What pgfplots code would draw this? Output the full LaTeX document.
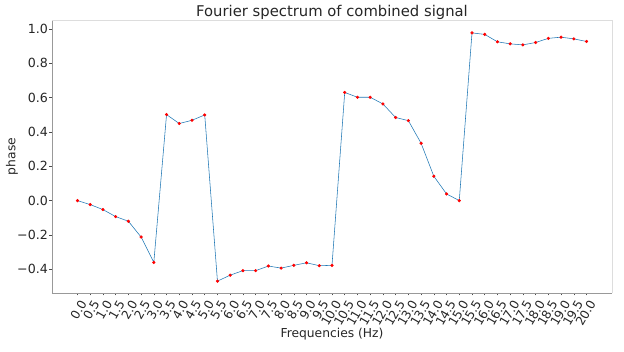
\documentclass[border=0pt]{standalone}
\usepackage{pgfplots}
\pgfplotsset{compat=1.18}
\usepackage{fontspec}
\setmainfont{DejaVu Sans}
\definecolor{mplblue}{HTML}{1F77B4}
\definecolor{spine}{HTML}{999999}
\definecolor{spinelight}{HTML}{DDDDDD}
\begin{document}
\begin{tikzpicture}
\begin{axis}[
  scale only axis,
  width=560pt, height=273pt,
  xmin=-1, xmax=21,
  ymin=-0.538, ymax=1.052,
  axis lines*=left,
  axis line style={-, draw=spine, line width=0.8pt},
  tick align=outside,
  major tick length=2.5pt,
  tick style={draw=black!70, line width=0.6pt},
  xtick={0,0.5,...,20},
  xticklabels={0.0,0.5,1.0,1.5,2.0,2.5,3.0,3.5,4.0,4.5,5.0,5.5,6.0,6.5,7.0,7.5,8.0,8.5,9.0,9.5,10.0,10.5,11.0,11.5,12.0,12.5,13.0,13.5,14.0,14.5,15.0,15.5,16.0,16.5,17.0,17.5,18.0,18.5,19.0,19.5,20.0},
  ytick={-0.4,-0.2,0,0.2,0.4,0.6,0.8,1.0},
  yticklabels={−0.4,−0.2,0.0,0.2,0.4,0.6,0.8,1.0},
  tick label style={font=\fontsize{12.6}{14}\selectfont, text=black!85},
  xticklabel style={font=\fontsize{12.2}{14}\selectfont, xshift=6pt, yshift=-5.5pt, rotate=60, anchor=east, inner sep=0pt},
  yticklabel style={inner sep=1.5pt},
  title={Fourier spectrum of combined signal},
  title style={font=\fontsize{14.8}{17}\selectfont, text=black!85, at={(axis description cs:0.5,1)}, anchor=base, yshift=-3pt},
  xlabel={Frequencies (Hz)},
  ylabel={phase},
  xlabel style={font=\fontsize{12.3}{14}\selectfont, text=black!85, at={(axis description cs:0.5,-0.15)}, anchor=center},
  ylabel style={font=\fontsize{12.3}{14}\selectfont, text=black!85, at={(axis description cs:-0.0714,0.5)}, anchor=center},
  clip=false,
]
\addplot[mplblue, line width=0.55pt, mark=*, mark size=1.3pt, mark options={draw=red, fill=red}] coordinates {
(0.0,0.000) (0.5,-0.023) (1.0,-0.052) (1.5,-0.093) (2.0,-0.120) (2.5,-0.212) (3.0,-0.360)
(3.5,0.501) (4.0,0.449) (4.5,0.468) (5.0,0.499)
(5.5,-0.469) (6.0,-0.434) (6.5,-0.408) (7.0,-0.408) (7.5,-0.381) (8.0,-0.393) (8.5,-0.377) (9.0,-0.362) (9.5,-0.379) (10.0,-0.377)
(10.5,0.630) (11.0,0.602) (11.5,0.602) (12.0,0.563) (12.5,0.484) (13.0,0.466) (13.5,0.334) (14.0,0.142) (14.5,0.039) (15.0,0.000)
(15.5,0.977) (16.0,0.968) (16.5,0.925) (17.0,0.913) (17.5,0.907) (18.0,0.921) (18.5,0.945) (19.0,0.952) (19.5,0.942) (20.0,0.927)
};
\draw[spinelight, line width=0.8pt] (rel axis cs:0,1) -- (rel axis cs:1,1) -- (rel axis cs:1,0);
\end{axis}
\pgfresetboundingbox
\useasboundingbox (-52pt,-59pt) rectangle (572pt,293pt);
\end{tikzpicture}
\end{document}
